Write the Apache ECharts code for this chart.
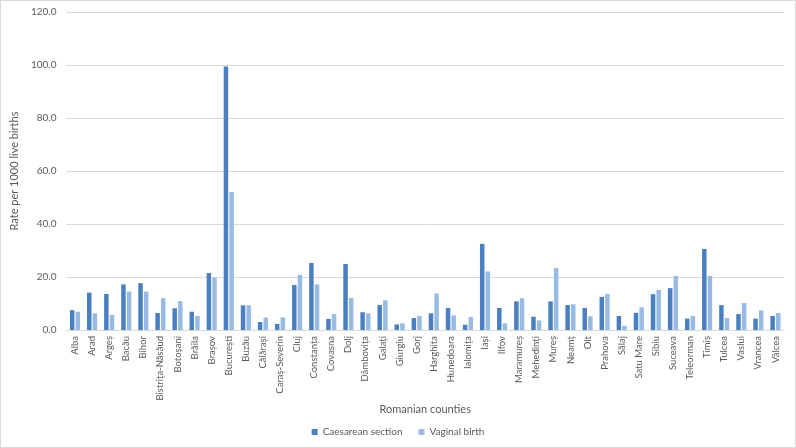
<!DOCTYPE html>
<html>
<head>
<meta charset="utf-8">
<script src="https://cdn.jsdelivr.net/npm/echarts@6/dist/echarts.min.js"></script>
<style>
  html, body { margin: 0; padding: 0; background: #fff; }
  #chart { width: 796px; height: 448px; box-sizing: border-box; border: 1px solid #d9d9d9; }
</style>
</head>
<body>
<div id="chart"></div>
<script>
const counties = [
  'Alba', 'Arad', 'Argeș', 'Bacău', 'Bihor', 'Bistrița-Năsăud', 'Botoșani', 'Brăila',
  'Brașov', 'București', 'Buzău', 'Călărași', 'Caraș-Severin', 'Cluj', 'Constanța',
  'Covasna', 'Dolj', 'Dâmbovița', 'Galați', 'Giurgiu', 'Gorj', 'Harghita', 'Hunedoara',
  'Ialomița', 'Iași', 'Ilfov', 'Maramureș', 'Mehedinți', 'Mureș', 'Neamț', 'Olt',
  'Prahova', 'Sălaj', 'Satu Mare', 'Sibiu', 'Suceava', 'Teleorman', 'Timiș', 'Tulcea',
  'Vaslui', 'Vrancea', 'Vâlcea'
];

const caesarean = [
  7.5, 14.1, 13.6, 17.2, 17.7, 6.4, 8.2, 6.9, 21.5, 99.4, 9.3, 3.0, 2.3, 17.0, 25.3,
  4.2, 24.9, 6.7, 9.4, 2.1, 4.5, 6.3, 8.3, 2.0, 32.5, 8.3, 10.8, 5.0, 10.8, 9.4, 8.3,
  12.5, 5.3, 6.5, 13.5, 15.8, 4.3, 30.6, 9.4, 6.0, 4.3, 5.3
];

const vaginal = [
  6.9, 6.3, 5.7, 14.5, 14.5, 12.0, 10.9, 5.3, 19.7, 52.1, 9.3, 4.7, 4.8, 20.8, 17.2,
  6.0, 12.1, 6.3, 11.2, 2.5, 5.3, 13.8, 5.5, 4.9, 22.1, 2.5, 12.0, 3.6, 23.4, 9.7, 5.2,
  13.6, 1.6, 8.6, 15.1, 20.4, 5.3, 20.4, 4.5, 10.2, 7.4, 6.4
];

const seriesNames = ['Caesarean section', 'Vaginal birth'];
const FONT = 'Lato, "Open Sans", sans-serif';

const chart = echarts.init(document.getElementById('chart'));

chart.setOption({
  animation: false,
  textStyle: { fontFamily: FONT },
  grid: { left: 59, right: 11, top: 11, bottom: 117 },
  legend: {
    bottom: 5,
    left: 'center',
    itemWidth: 6,
    itemHeight: 6,
    itemGap: 16,
    icon: 'rect',
    textStyle: { color: '#595959', fontSize: 10, fontFamily: FONT },
    data: seriesNames
  },
  xAxis: {
    type: 'category',
    data: counties,
    name: 'Romanian counties',
    nameLocation: 'middle',
    nameGap: 74,
    nameMoveOverlap: false,
    nameTextStyle: { color: '#595959', fontSize: 11, fontFamily: FONT },
    axisLine: { lineStyle: { color: '#d9d9d9' } },
    axisTick: { show: false },
    axisLabel: {
      rotate: 90,
      interval: 0,
      color: '#595959',
      fontSize: 9.5,
      margin: 6,
      fontFamily: FONT
    }
  },
  yAxis: {
    type: 'value',
    min: 0,
    max: 120,
    interval: 20,
    name: 'Rate per 1000 live births',
    nameLocation: 'middle',
    nameGap: 36,
    nameTextStyle: { color: '#595959', fontSize: 11, fontFamily: FONT },
    axisLine: { show: false },
    axisTick: { show: false },
    axisLabel: {
      color: '#595959',
      fontSize: 10,
      margin: 10,
      fontFamily: FONT,
      formatter: (v) => v.toFixed(1)
    },
    splitLine: { lineStyle: { color: '#d9d9d9' } }
  },
  series: [
    {
      name: seriesNames[0],
      type: 'bar',
      data: caesarean,
      barWidth: 4.5,
      barGap: '25%',
      itemStyle: { color: '#4a80bf' }
    },
    {
      name: seriesNames[1],
      type: 'bar',
      data: vaginal,
      barWidth: 4.5,
      itemStyle: { color: '#97bbe4' }
    }
  ]
});
</script>
</body>
</html>
